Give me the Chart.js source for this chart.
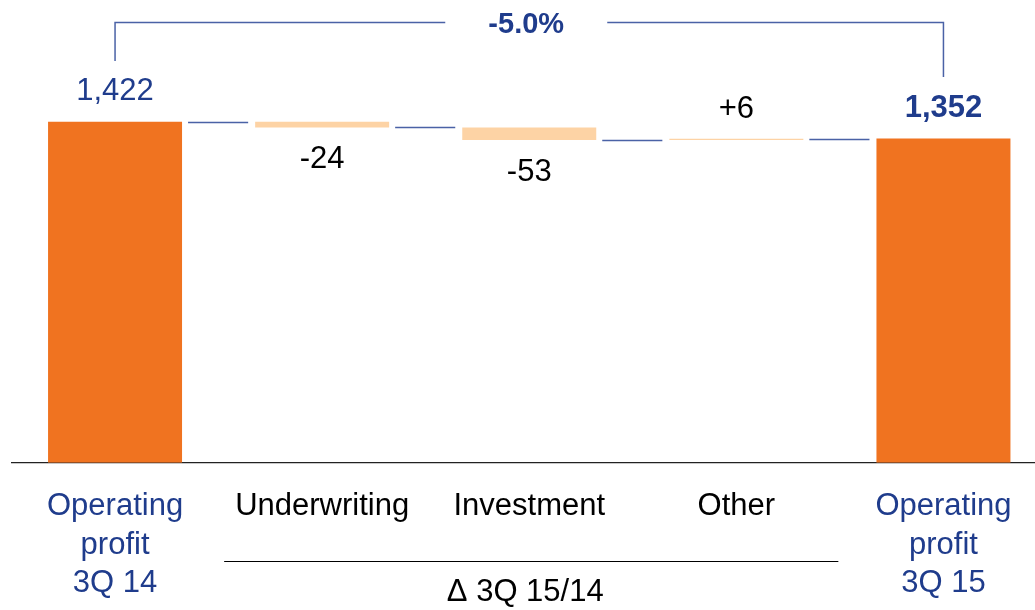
<!DOCTYPE html>
<html>
<head>
<meta charset="utf-8">
<script src="https://cdn.jsdelivr.net/npm/chart.js@4/dist/chart.umd.min.js"></script>
<style>
  html, body { margin: 0; padding: 0; background: #fff; overflow: hidden; }
  #wrap { width: 1047px; height: 610px; position: relative; }
</style>
</head>
<body>
<div id="wrap"><canvas id="waterfallChart"></canvas></div>
<script>
// chart data
const categories = [
  ["Operating", "profit", "3Q 14"],
  "Underwriting",
  "Investment",
  "Other",
  ["Operating", "profit", "3Q 15"],
];
const startValue = 1422;
const deltas = [-24, -53, 6];
const endValue = 1352;
const changeLabel = "-5.0%";
const groupLabel = "\u0394 3Q 15/14";

const ORANGE = "#F07320";
const LIGHT = "#FDD3A5";
const BLUE = "#1F3C8C";
const LINE_BLUE = "#4A62A6";
const FONT = "'Liberation Sans', Arial, sans-serif";

// floating bars [from, to] + the running level after each bar
const bars = [[0, startValue]];
const levels = [startValue];
let run = startValue;
deltas.forEach((d) => {
  bars.push([run, run + d]);
  run += d;
  levels.push(run);
});
bars.push([0, endValue]);
levels.push(endValue);

const labelTexts = [
  startValue.toLocaleString("en-US"),
  ...deltas.map((d) => (d > 0 ? "+" : "") + d),
  endValue.toLocaleString("en-US"),
];
const isTotal = (i) => i === 0 || i === categories.length - 1;

const waterfallPlugin = {
  id: "waterfall",
  afterDatasetsDraw(chart) {
    const ctx = chart.ctx;
    const meta = chart.getDatasetMeta(0);
    const yScale = chart.scales.y;
    const xScale = chart.scales.x;
    ctx.save();

    // connectors between bars
    ctx.strokeStyle = LINE_BLUE;
    ctx.lineWidth = 1.3;
    for (let i = 0; i < meta.data.length - 1; i++) {
      const a = meta.data[i];
      const b = meta.data[i + 1];
      const y = Math.round(yScale.getPixelForValue(levels[i])) + 0.5;
      ctx.beginPath();
      ctx.moveTo(a.x + a.width / 2 + 6, y);
      ctx.lineTo(b.x - b.width / 2 - 7, y);
      ctx.stroke();
    }

    // value labels
    ctx.textAlign = "center";
    ctx.textBaseline = "middle";
    meta.data.forEach((bar, i) => {
      const top = Math.min(bar.y, bar.base);
      const bottom = Math.max(bar.y, bar.base);
      let y;
      if (isTotal(i)) {
        ctx.fillStyle = BLUE;
        ctx.font = (i === 0 ? "" : "bold ") + "31px " + FONT;
        y = top - 30;
      } else {
        ctx.fillStyle = "#000";
        ctx.font = "31px " + FONT;
        y = deltas[i - 1] < 0 ? bottom + 32 : top - 29;
      }
      ctx.fillText(labelTexts[i], bar.x, y);
    });

    // bracket with total change
    const x0 = meta.data[0].x;
    const x1 = meta.data[meta.data.length - 1].x;
    const mid = (x0 + x1) / 2;
    const by = 22.5;
    ctx.strokeStyle = LINE_BLUE;
    ctx.lineWidth = 1.5;
    ctx.beginPath();
    ctx.moveTo(x0, 61);
    ctx.lineTo(x0, by);
    ctx.lineTo(mid - 84, by);
    ctx.moveTo(mid + 78, by);
    ctx.lineTo(x1, by);
    ctx.lineTo(x1, 77);
    ctx.stroke();
    ctx.fillStyle = BLUE;
    ctx.font = "bold 29px " + FONT;
    ctx.fillText(changeLabel, mid - 3, 25);

    // group underline and label for the deltas
    const gx0 = xScale.getPixelForTick(1) - 98;
    const gx1 = xScale.getPixelForTick(3) + 102;
    ctx.strokeStyle = "#000";
    ctx.lineWidth = 1.2;
    ctx.beginPath();
    ctx.moveTo(gx0, 561.5);
    ctx.lineTo(gx1, 561.5);
    ctx.stroke();
    ctx.fillStyle = "#000";
    ctx.font = "31px " + FONT;
    ctx.fillText(groupLabel, xScale.getPixelForTick(2) - 4, 592);

    ctx.restore();
  },
};

const ctx = document.getElementById("waterfallChart").getContext("2d");
new Chart(ctx, {
  type: "bar",
  data: {
    labels: categories,
    datasets: [
      {
        data: bars,
        backgroundColor: bars.map((b, i) => (isTotal(i) ? ORANGE : LIGHT)),
        borderWidth: 0,
        categoryPercentage: 1,
        barPercentage: 0.647,
      },
    ],
  },
  options: {
    responsive: true,
    maintainAspectRatio: false,
    animation: false,
    layout: { padding: { left: 11.5, right: 0, top: 7, bottom: -18 } },
    plugins: {
      legend: { display: false },
      tooltip: { enabled: false },
    },
    scales: {
      y: {
        display: false,
        min: 0,
        max: 1900,
      },
      x: {
        grid: { display: false, drawTicks: false },
        border: { display: true, color: "#222", width: 1.3 },
        ticks: {
          padding: 25,
          maxRotation: 0,
          autoSkip: false,
          font: { family: FONT, size: 31, lineHeight: 1.24 },
          color: (c) => (isTotal(c.index) ? BLUE : "#000"),
        },
      },
    },
  },
  plugins: [waterfallPlugin],
});
</script>
</body>
</html>
